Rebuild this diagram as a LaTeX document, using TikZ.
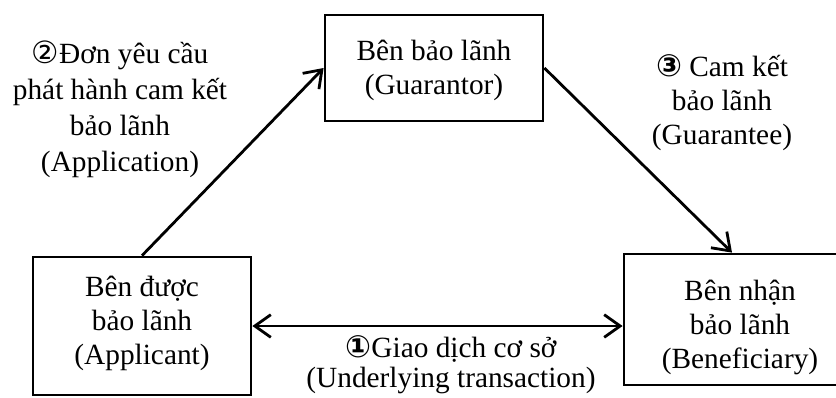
\documentclass[tikz,border=0pt]{standalone}
\usepackage{fontspec}
\setmainfont{Liberation Serif}
\newfontfamily\symfont{DejaVu Sans}
\usetikzlibrary{arrows.meta}

\begin{document}
\begin{tikzpicture}[x=0.75pt,y=0.75pt,yscale=-1,xscale=1,
  box/.style={draw, line width=2.1pt, inner sep=0pt},
  txt/.style={align=center, inner sep=0.75pt, font=\fontsize{22}{25.5}\selectfont},
  barb/.tip={Straight Barb[length=12pt,width=17pt,line width=2.1pt]},
  flow/.style={line width=2.1pt, -barb}]
\useasboundingbox (0,0) rectangle (836,397);
\clip (0,0) rectangle (836,397);
% parties
\node [box, minimum width=163.5pt, minimum height=79.5pt] (guarantor) at (434,68) {};
\node [box, minimum width=163.5pt, minimum height=103.5pt] (applicant) at (142,326) {};
\node [box, minimum width=174pt, minimum height=98.25pt] (benef) at (740,319.5) {};
\node [txt] (guarantorTxt) at (434,70) {Bên bảo lãnh\\(Guarantor)};
\node [txt] (applicantTxt) at (142,323) {Bên được\\bảo lãnh\\(Applicant)};
\node [txt] (benefTxt) at (740,327.5) {Bên nhận\\bảo lãnh\\(Beneficiary)};
% flows
\draw [flow] (applicant.north) -- (guarantor.west);
\draw [flow] (guarantor.east) -- ([xshift=-6pt]benef.north);
\draw [flow, barb-barb] (applicant.east) -- (applicant.east -| benef.west);
% labels
\node [txt, font=\fontsize{22}{27}\selectfont] (applicationTxt) at (120,109) {{\symfont\fontsize{23}{23}\selectfont ②}Đơn yêu cầu\\phát hành cam kết\\bảo lãnh\\(Application)};
\node [txt] (guaranteeTxt) at (722,103) {{\symfont\bfseries\fontsize{23}{23}\selectfont ③} Cam kết\\bảo lãnh\\(Guarantee)};
\node [txt, font=\fontsize{22}{22.5}\selectfont] (underlyingTxt) at (451,365) {{\symfont\bfseries\fontsize{23}{23}\selectfont ①}Giao dịch cơ sở\\(Underlying transaction)};
\end{tikzpicture}
\end{document}
